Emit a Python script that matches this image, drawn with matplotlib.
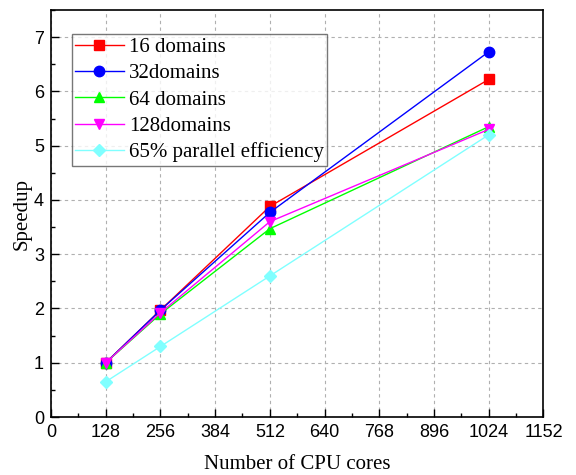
import matplotlib.pyplot as plt
from matplotlib.ticker import MultipleLocator

cores = [128, 256, 512, 1024]
speedup_16 = [1.0, 1.97, 3.88, 6.22]
speedup_32 = [1.0, 1.97, 3.77, 6.73]
speedup_64 = [1.0, 1.90, 3.47, 5.35]
speedup_128 = [1.0, 1.92, 3.60, 5.30]
efficiency_65 = [0.65, 1.30, 2.60, 5.20]

series = [
    ("16 domains", speedup_16, "#ff0000", "s"),
    ("32domains", speedup_32, "#0000ff", "o"),
    ("64 domains", speedup_64, "#00ff00", "^"),
    ("128domains", speedup_128, "#ff00ff", "v"),
    ("65% parallel efficiency", efficiency_65, "#80ffff", "D"),
]

fig = plt.figure(figsize=(5.76, 4.75), dpi=100, facecolor="white")
ax = fig.add_axes([0.0885, 0.122, 0.855, 0.857])

for label, vals, color, marker in series:
    ms = 6.5 if marker == "D" else 7.5
    ax.plot(cores, vals, color=color, marker=marker, markersize=ms,
            linewidth=1.0, label=label)

ax.set_xlim(0, 1152)
ax.set_ylim(0, 7.5)
ax.xaxis.set_major_locator(MultipleLocator(128))
ax.xaxis.set_minor_locator(MultipleLocator(64))
ax.yaxis.set_major_locator(MultipleLocator(1))
ax.yaxis.set_minor_locator(MultipleLocator(0.5))
ax.tick_params(which="both", direction="in", width=1.0)
ax.tick_params(which="major", length=6, labelsize=13, pad=5)
ax.tick_params(which="minor", length=3)
for lab in ax.get_xticklabels() + ax.get_yticklabels():
    lab.set_family("Liberation Sans")
for sp in ax.spines.values():
    sp.set_linewidth(1.2)

ax.grid(True, which="major", linestyle=(0, (3, 3)), color="#b0b0b0", linewidth=0.8)
ax.set_axisbelow(True)

ax.set_xlabel("Number of CPU cores", family="Liberation Serif", fontsize=15, labelpad=10)
ax.set_ylabel("Speedup", family="Liberation Serif", fontsize=15, labelpad=2)

leg = ax.legend(loc="upper left", bbox_to_anchor=(0.042, 0.94), fancybox=False,
                prop={"family": "Liberation Serif", "size": 15},
                handlelength=2.35, labelspacing=0.32, borderpad=0.15,
                handletextpad=0.25, borderaxespad=0)
leg.get_frame().set_edgecolor("#555555")
leg.get_frame().set_linewidth(1.0)

fig.savefig("out.png", dpi=100, facecolor="white")
